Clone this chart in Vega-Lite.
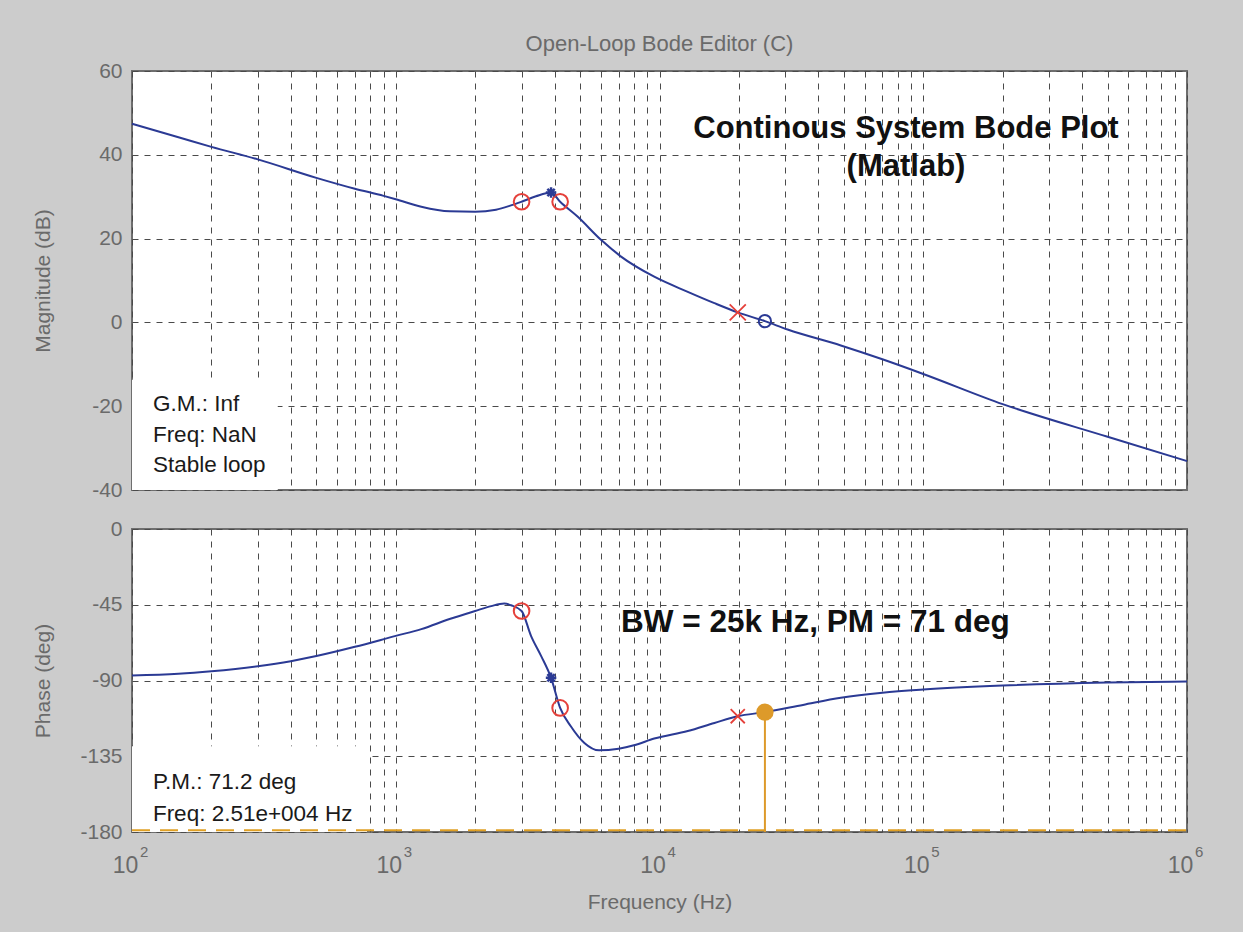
{
  "$schema": "https://vega.github.io/schema/vega-lite/v6.json",
  "autosize": {"type": "pad"},
  "padding": {"left": 31, "top": 32, "right": 42, "bottom": 30},
  "background": "#cccccc",
  "bounds": "flush",
  "spacing": 39,
  "config": {
    "font": "Liberation Sans",
    "view": {"fill": "white", "stroke": "#6e6e6e", "strokeWidth": 2},
    "axis": {
      "labelFont": "Liberation Sans", "labelFontSize": 21, "labelColor": "#6a6a6a",
      "titleFont": "Liberation Sans", "titleFontSize": 21, "titleColor": "#6a6a6a", "titleFontWeight": "normal",
      "domain": false, "ticks": false, "grid": true, "gridColor": "#4a4a4a", "gridDash": [6, 6], "gridWidth": 1, "gridOpacity": 1,
      "labelPadding": 10, "labelOverlap": false, "labelBound": false, "labelFlush": false
    }
  },
  "datasets": {
    "magLine": [
      {"f": 100, "v": 47.4}, {"f": 150, "v": 44.2}, {"f": 200, "v": 41.9}, {"f": 300, "v": 38.9},
      {"f": 500, "v": 34.5}, {"f": 700, "v": 31.9}, {"f": 900, "v": 30.2}, {"f": 1000, "v": 29.4},
      {"f": 1250, "v": 27.6}, {"f": 1600, "v": 26.5}, {"f": 2000, "v": 26.4}, {"f": 2400, "v": 26.9},
      {"f": 2700, "v": 27.8}, {"f": 3000, "v": 28.8}, {"f": 3400, "v": 30.1}, {"f": 3880, "v": 31.0},
      {"f": 4200, "v": 28.8}, {"f": 4900, "v": 25.2}, {"f": 6000, "v": 19.7}, {"f": 7150, "v": 15.7},
      {"f": 9550, "v": 10.9}, {"f": 12800, "v": 7.3}, {"f": 16150, "v": 4.6}, {"f": 19800, "v": 2.4},
      {"f": 25100, "v": 0.3}, {"f": 30600, "v": -1.7}, {"f": 48700, "v": -5.5}, {"f": 70000, "v": -8.8},
      {"f": 100000, "v": -12.3}, {"f": 200000, "v": -19.5}, {"f": 500000, "v": -27.3}, {"f": 1000000, "v": -33.1}
    ],
    "phaseLine": [
      {"f": 100, "v": -87}, {"f": 150, "v": -86}, {"f": 200, "v": -84.5}, {"f": 300, "v": -81.5},
      {"f": 400, "v": -78.5}, {"f": 500, "v": -75.5}, {"f": 700, "v": -70}, {"f": 1000, "v": -63.5},
      {"f": 1250, "v": -59.5}, {"f": 1600, "v": -53.5}, {"f": 2000, "v": -48.7}, {"f": 2300, "v": -45.8},
      {"f": 2580, "v": -44.3}, {"f": 2735, "v": -45.3}, {"f": 3000, "v": -48.7}, {"f": 3260, "v": -63.6},
      {"f": 3560, "v": -75.5}, {"f": 3880, "v": -88.4}, {"f": 4200, "v": -106.3}, {"f": 4610, "v": -117.2},
      {"f": 5190, "v": -127.1}, {"f": 5900, "v": -131.5}, {"f": 7000, "v": -130.5}, {"f": 8000, "v": -128.5},
      {"f": 9550, "v": -124.5}, {"f": 12800, "v": -120.0}, {"f": 16150, "v": -115.2}, {"f": 19800, "v": -111.2},
      {"f": 25100, "v": -108.8}, {"f": 35000, "v": -104.5}, {"f": 48700, "v": -100.3}, {"f": 70000, "v": -97.3},
      {"f": 100000, "v": -95.4}, {"f": 200000, "v": -93.0}, {"f": 500000, "v": -91.2}, {"f": 1000000, "v": -90.6}
    ],
    "magPts": [
      {"f": 3000, "v": 28.8, "kind": "comp_zero"},
      {"f": 4200, "v": 28.8, "kind": "comp_zero"},
      {"f": 3880, "v": 31.0, "kind": "plant_pole"},
      {"f": 19800, "v": 2.4, "kind": "comp_pole"},
      {"f": 25100, "v": 0.3, "kind": "crossover"}
    ],
    "phasePts": [
      {"f": 3000, "v": -48.7, "kind": "comp_zero"},
      {"f": 4200, "v": -106.3, "kind": "comp_zero"},
      {"f": 3880, "v": -88.4, "kind": "plant_pole"},
      {"f": 19800, "v": -111.2, "kind": "comp_pole"},
      {"f": 25100, "v": -108.8, "kind": "margin", "v2": -180}
    ],
    "magBox": [{"f": 100, "f2": 357, "v": -40, "v2": -13.7}],
    "phaseBox": [{"f": 100, "f2": 778, "v": -180, "v2": -129}],
    "phaseRef": [{"f": 100, "f2": 1000000, "v": -179}],
    "decades": [
      {"f": 100, "e": "2"}, {"f": 1000, "e": "3"}, {"f": 10000, "e": "4"}, {"f": 100000, "e": "5"}, {"f": 1000000, "e": "6"}
    ],
    "magNotes": [
      {"f": 120, "v": -21.1, "label": "G.M.: Inf"},
      {"f": 120, "v": -28.5, "label": "Freq: NaN"},
      {"f": 120, "v": -35.6, "label": "Stable loop"}
    ],
    "magHeads": [
      {"f": 86000, "v": 44.0, "label": "Continous System Bode Plot"},
      {"f": 86000, "v": 34.9, "label": "(Matlab)"}
    ],
    "phaseNotes": [
      {"f": 120, "v": -154.6, "label": "P.M.: 71.2 deg"},
      {"f": 120, "v": -173.2, "label": "Freq: 2.51e+004 Hz"}
    ],
    "phaseHeads": [
      {"f": 7150, "v": -61.0, "label": "BW = 25k Hz, PM = 71 deg"}
    ]
  },
  "vconcat": [
    {
      "width": 1055,
      "height": 419,
      "title": {"text": "Open-Loop Bode Editor (C)", "frame": "group", "anchor": "middle", "fontSize": 22, "fontWeight": "normal", "color": "#6a6a6a", "font": "Liberation Sans", "offset": 4},
      "layer": [
        {
          "data": {"name": "magBox"},
          "mark": {"type": "rect", "fill": "white"},
          "encoding": {
            "x": {"field": "f", "type": "quantitative",
                  "scale": {"type": "log", "domain": [100, 1000000], "nice": false},
                  "axis": {"values": [100,200,300,400,500,600,700,800,900,1000,2000,3000,4000,5000,6000,7000,8000,9000,10000,20000,30000,40000,50000,60000,70000,80000,90000,100000,200000,300000,400000,500000,600000,700000,800000,900000,1000000],
                           "labels": false, "title": null}},
            "x2": {"field": "f2"},
            "y": {"field": "v", "type": "quantitative",
                  "scale": {"domain": [-40, 60], "nice": false},
                  "axis": {"values": [-40, -20, 0, 20, 40, 60], "labelExpr": "'' + datum.value", "title": "Magnitude (dB)", "titleX": -89, "titleY": 209.5, "titleAngle": -90, "titleAlign": "center", "titleBaseline": "middle"}},
            "y2": {"field": "v2"}
          }
        },
        {
          "data": {"name": "magLine"},
          "mark": {"type": "line", "color": "#2b3a94", "strokeWidth": 2, "interpolate": "monotone"},
          "encoding": {"x": {"field": "f", "type": "quantitative"}, "y": {"field": "v", "type": "quantitative"}}
        },
        {
          "data": {"name": "magPts"},
          "transform": [{"filter": "datum.kind == 'comp_zero'"}],
          "mark": {"type": "point", "shape": "circle", "filled": false, "stroke": "#e5403a", "strokeWidth": 2, "size": 245, "opacity": 1},
          "encoding": {"x": {"field": "f", "type": "quantitative"}, "y": {"field": "v", "type": "quantitative"}}
        },
        {
          "data": {"name": "magPts"},
          "transform": [{"filter": "datum.kind == 'comp_pole'"}],
          "mark": {"type": "point", "shape": "M-1,-1L1,1M-1,1L1,-1", "filled": false, "stroke": "#e5403a", "strokeWidth": 1.8, "size": 260, "opacity": 1},
          "encoding": {"x": {"field": "f", "type": "quantitative"}, "y": {"field": "v", "type": "quantitative"}}
        },
        {
          "data": {"name": "magPts"},
          "transform": [{"filter": "datum.kind == 'plant_pole'"}],
          "mark": {"type": "point", "shape": "M-1,0L1,0M0,-1L0,1M-0.7,-0.7L0.7,0.7M-0.7,0.7L0.7,-0.7", "filled": false, "stroke": "#2b3a94", "strokeWidth": 2.5, "size": 110, "opacity": 1},
          "encoding": {"x": {"field": "f", "type": "quantitative"}, "y": {"field": "v", "type": "quantitative"}}
        },
        {
          "data": {"name": "magPts"},
          "transform": [{"filter": "datum.kind == 'crossover'"}],
          "mark": {"type": "point", "shape": "circle", "filled": false, "stroke": "#2b3a94", "strokeWidth": 2, "size": 150, "opacity": 1},
          "encoding": {"x": {"field": "f", "type": "quantitative"}, "y": {"field": "v", "type": "quantitative"}}
        },
        {
          "data": {"name": "magNotes"},
          "mark": {"type": "text", "align": "left", "baseline": "alphabetic", "fontSize": 22.5, "color": "#1a1a1a", "font": "Liberation Sans"},
          "encoding": {"x": {"field": "f", "type": "quantitative"}, "y": {"field": "v", "type": "quantitative"}, "text": {"field": "label"}}
        },
        {
          "data": {"name": "magHeads"},
          "mark": {"type": "text", "align": "center", "baseline": "alphabetic", "fontSize": 31, "fontWeight": "bold", "color": "#111111", "font": "Liberation Sans"},
          "encoding": {"x": {"field": "f", "type": "quantitative"}, "y": {"field": "v", "type": "quantitative"}, "text": {"field": "label"}}
        }
      ]
    },
    {
      "width": 1055,
      "height": 303,
      "layer": [
        {
          "data": {"name": "phaseBox"},
          "mark": {"type": "rect", "fill": "white"},
          "encoding": {
            "x": {"field": "f", "type": "quantitative",
                  "scale": {"type": "log", "domain": [100, 1000000], "nice": false},
                  "axis": {"values": [100,200,300,400,500,600,700,800,900,1000,2000,3000,4000,5000,6000,7000,8000,9000,10000,20000,30000,40000,50000,60000,70000,80000,90000,100000,200000,300000,400000,500000,600000,700000,800000,900000,1000000],
                           "labelExpr": "(datum.value == 100 || datum.value == 1000 || datum.value == 10000 || datum.value == 100000 || datum.value == 1000000) ? '10' : ''",
                           "labelPadding": 22, "labelFontSize": 23, "labelOffset": -7,
                           "title": "Frequency (Hz)", "titleY": 70, "titleBaseline": "middle"}},
            "x2": {"field": "f2"},
            "y": {"field": "v", "type": "quantitative",
                  "scale": {"domain": [-180, 0], "nice": false},
                  "axis": {"values": [-180, -135, -90, -45, 0], "labelExpr": "'' + datum.value", "title": "Phase (deg)", "titleX": -89, "titleY": 151.5, "titleAngle": -90, "titleAlign": "center", "titleBaseline": "middle"}},
            "y2": {"field": "v2"}
          }
        },
        {
          "data": {"name": "decades"},
          "mark": {"type": "text", "align": "left", "baseline": "alphabetic", "fontSize": 15, "color": "#6a6a6a", "font": "Liberation Sans", "dx": 8, "dy": 25},
          "encoding": {"x": {"field": "f", "type": "quantitative"}, "y": {"datum": -180}, "text": {"field": "e"}}
        },
        {
          "data": {"name": "phaseRef"},
          "mark": {"type": "rule", "color": "#e0a024", "strokeWidth": 2, "strokeDash": [18, 10]},
          "encoding": {"x": {"field": "f", "type": "quantitative"}, "x2": {"field": "f2"}, "y": {"field": "v", "type": "quantitative"}}
        },
        {
          "data": {"name": "phaseLine"},
          "mark": {"type": "line", "color": "#2b3a94", "strokeWidth": 2, "interpolate": "monotone"},
          "encoding": {"x": {"field": "f", "type": "quantitative"}, "y": {"field": "v", "type": "quantitative"}}
        },
        {
          "data": {"name": "phasePts"},
          "transform": [{"filter": "datum.kind == 'margin'"}],
          "mark": {"type": "rule", "color": "#dd9a2a", "strokeWidth": 2},
          "encoding": {"x": {"field": "f", "type": "quantitative"}, "y": {"field": "v", "type": "quantitative"}, "y2": {"field": "v2"}}
        },
        {
          "data": {"name": "phasePts"},
          "transform": [{"filter": "datum.kind == 'margin'"}],
          "mark": {"type": "point", "shape": "circle", "filled": true, "color": "#dd9a2a", "size": 300, "opacity": 1},
          "encoding": {"x": {"field": "f", "type": "quantitative"}, "y": {"field": "v", "type": "quantitative"}}
        },
        {
          "data": {"name": "phasePts"},
          "transform": [{"filter": "datum.kind == 'comp_zero'"}],
          "mark": {"type": "point", "shape": "circle", "filled": false, "stroke": "#e5403a", "strokeWidth": 2, "size": 245, "opacity": 1},
          "encoding": {"x": {"field": "f", "type": "quantitative"}, "y": {"field": "v", "type": "quantitative"}}
        },
        {
          "data": {"name": "phasePts"},
          "transform": [{"filter": "datum.kind == 'comp_pole'"}],
          "mark": {"type": "point", "shape": "M-1,-1L1,1M-1,1L1,-1", "filled": false, "stroke": "#e5403a", "strokeWidth": 1.8, "size": 200, "opacity": 1},
          "encoding": {"x": {"field": "f", "type": "quantitative"}, "y": {"field": "v", "type": "quantitative"}}
        },
        {
          "data": {"name": "phasePts"},
          "transform": [{"filter": "datum.kind == 'plant_pole'"}],
          "mark": {"type": "point", "shape": "M-1,0L1,0M0,-1L0,1M-0.7,-0.7L0.7,0.7M-0.7,0.7L0.7,-0.7", "filled": false, "stroke": "#2b3a94", "strokeWidth": 2.5, "size": 110, "opacity": 1},
          "encoding": {"x": {"field": "f", "type": "quantitative"}, "y": {"field": "v", "type": "quantitative"}}
        },
        {
          "data": {"name": "phaseNotes"},
          "mark": {"type": "text", "align": "left", "baseline": "alphabetic", "fontSize": 22.5, "color": "#1a1a1a", "font": "Liberation Sans"},
          "encoding": {"x": {"field": "f", "type": "quantitative"}, "y": {"field": "v", "type": "quantitative"}, "text": {"field": "label"}}
        },
        {
          "data": {"name": "phaseHeads"},
          "mark": {"type": "text", "align": "left", "baseline": "alphabetic", "fontSize": 31.5, "fontWeight": "bold", "color": "#111111", "font": "Liberation Sans"},
          "encoding": {"x": {"field": "f", "type": "quantitative"}, "y": {"field": "v", "type": "quantitative"}, "text": {"field": "label"}}
        }
      ]
    }
  ]
}
